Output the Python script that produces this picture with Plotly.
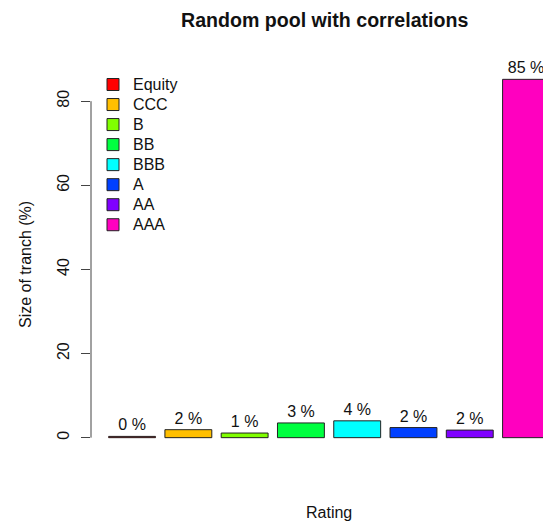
import plotly.graph_objects as go

ratings = ["Equity", "CCC", "B", "BB", "BBB", "A", "AA", "AAA"]
sizes = [0.3, 1.9, 1.1, 3.5, 4.0, 2.4, 1.8, 85.2]
labels = ["0 %", "2 %", "1 %", "3 %", "4 %", "2 %", "2 %", "85 %"]
colors = ["#FF0000", "#FFBF00", "#80FF00", "#00FF40", "#00FFFF", "#0040FF", "#8000FF", "#FF00BF"]
yticks = [0, 20, 40, 60, 80]

# R barplot geometry: width 1, space 0.2
centers = [0.2 + 0.5 + i * 1.2 for i in range(len(ratings))]

FONT = "Liberation Sans, Arial, sans-serif"
TXT = "#111111"

# page has an 8px body margin, so the figure is 8px smaller than the window
W, H = 543, 514
ML, MR, MT, MB = 83, 0, 57, 70
PW, PH = W - ML - MR, H - MT - MB


def px(xf):
    return (xf - ML) / PW


def py(yf):
    return (H - MB - yf) / PH


fig = go.Figure()
for name, x, v, lab, c in zip(ratings, centers, sizes, labels, colors):
    fig.add_trace(go.Bar(
        x=[x], y=[v], width=1.0,
        name="<span style='font-size:16px'>" + name + "</span>",
        marker=dict(color=c, line=dict(color="#222222", width=1)),
        text=[lab], textposition="outside", cliponaxis=False,
        textfont=dict(family=FONT, size=16, color=TXT),
        showlegend=True,
    ))

ymax = max(sizes)
ypad = 0.04 * ymax
xlo, xhi = centers[0] - 0.5, centers[-1] + 0.5
xpad = 0.04 * (xhi - xlo)
unit_px = 46.9
x0 = xlo - xpad
x1 = x0 + PW / unit_px

fig.update_layout(
    width=W, height=H,
    margin=dict(l=ML, r=MR, t=MT, b=MB),
    paper_bgcolor="white", plot_bgcolor="white",
    barmode="overlay",
    font=dict(family=FONT, size=16, color=TXT),
    xaxis=dict(range=[x0, x1], showgrid=False, zeroline=False,
               showticklabels=False, ticks="", showline=False),
    yaxis=dict(range=[-ypad, ymax + ypad], showgrid=False, zeroline=False,
               tickvals=yticks, ticks="outside", ticklen=9, tickcolor="#444444",
               tickangle=-90, showline=False, ticklabelstandoff=6,
               tickfont=dict(family=FONT, size=16, color=TXT)),
    legend=dict(x=px(85), y=py(61.5), xanchor="left", yanchor="top",
                font=dict(family=FONT, size=13.1, color=TXT),
                bgcolor="rgba(0,0,0,0)", tracegroupgap=0, itemwidth=30),
    showlegend=True,
    annotations=[
        dict(text="<b>Random pool with correlations</b>", x=px(316.5), y=py(12),
             xref="paper", yref="paper", showarrow=False,
             xanchor="center", yanchor="middle",
             font=dict(family=FONT, size=19.6, color=TXT)),
        dict(text="Rating", x=px(321), y=py(505), xref="paper", yref="paper",
             xanchor="center", yanchor="middle",
             showarrow=False, font=dict(family=FONT, size=16, color=TXT)),
        dict(text="Size of tranch (%)", x=px(17), y=py(257), xref="paper", yref="paper",
             xanchor="center", yanchor="middle",
             showarrow=False, textangle=-90,
             font=dict(family=FONT, size=16, color=TXT)),
    ],
    shapes=[dict(type="line", xref="paper", yref="y", x0=0, x1=0, y0=0, y1=80,
                 line=dict(color="#444444", width=1))],
)

fig.write_html("out.html")
